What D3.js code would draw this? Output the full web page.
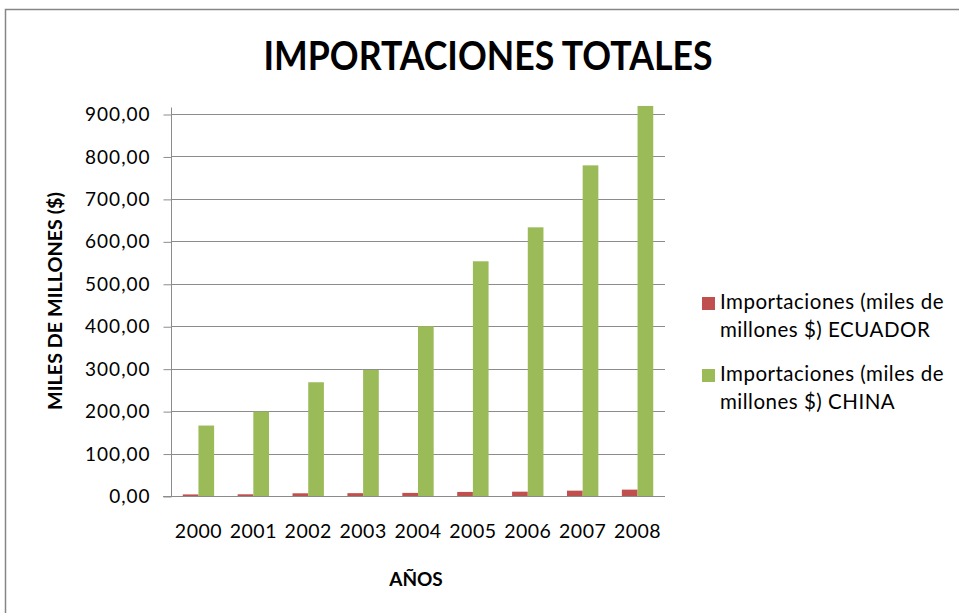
<!DOCTYPE html>
<html>
<head>
<meta charset="utf-8">
<script src="https://cdn.jsdelivr.net/npm/d3@7"></script>
<style>
  html, body { margin: 0; padding: 0; background: #fff; }
  svg { display: block; }
  text { font-family: Lato, "Open Sans", "Liberation Sans", sans-serif; fill: #000; }
</style>
</head>
<body>
<svg id="chart" width="959" height="613"></svg>
<script>
const years = ["2000", "2001", "2002", "2003", "2004", "2005", "2006", "2007", "2008"];
const ecuador = [3.7, 4.0, 6.4, 6.7, 7.3, 9.6, 10.2, 12.6, 15.0];
const china = [166, 199, 268, 297, 400, 553, 633, 779, 919];
const seriesNames = [
  ["Importaciones (miles de", "millones $) ECUADOR"],
  ["Importaciones (miles de", "millones $) CHINA"]
];
const seriesColors = ["#C0504D", "#9BBB59"];
const yTicks = [0, 100, 200, 300, 400, 500, 600, 700, 800, 900];
const titleText = "IMPORTACIONES TOTALES";
const yTitle = "MILES DE MILLONES ($)";
const xTitle = "AÑOS";

const svg = d3.select("#chart");

// outer chart border
svg.append("rect")
  .attr("x", 5.5).attr("y", 9.5)
  .attr("width", 1000).attr("height", 1000)
  .attr("fill", "#fff")
  .attr("stroke", "#868686").attr("stroke-width", 1.5);

const plotLeft = 171, plotRight = 665, plotTop = 114, plotBottom = 496;

const x = d3.scaleBand().domain(years).range([plotLeft, plotRight]).padding(0);
const bw = x.bandwidth();
const barW = bw / 3.5;
const x1 = d3.scaleBand().domain([0, 1]).range([bw / 2 - barW, bw / 2 + barW]).padding(0);
const y = d3.scaleLinear().domain([0, 900]).range([plotBottom, plotTop]);

// gridlines
svg.append("g")
  .selectAll("line").data(yTicks.filter(d => d > 0)).join("line")
  .attr("x1", plotLeft).attr("x2", plotRight)
  .attr("y1", d => Math.round(y(d)) + 0.5).attr("y2", d => Math.round(y(d)) + 0.5)
  .attr("stroke", "#8c8c8c").attr("stroke-width", 1);

// y axis
const yAxis = d3.axisLeft(y).tickValues(yTicks).tickSize(8).tickPadding(13)
  .tickFormat(d => d3.format(".2f")(d).replace(".", ","));
const gy = svg.append("g").attr("transform", `translate(${plotLeft + 0.5},0.5)`).call(yAxis);
gy.select(".domain").attr("stroke", "#8c8c8c").attr("d", `M0,${plotTop - 7}V${plotBottom}`);
gy.selectAll(".tick line").attr("stroke", "#8c8c8c");
gy.selectAll(".tick text").attr("font-size", 19).attr("fill", "#000")
  .attr("font-family", "Lato, 'Open Sans', sans-serif").attr("letter-spacing", 1.0);

// bars
const series = [ecuador, china];
series.forEach((vals, si) => {
  svg.append("g").selectAll("rect").data(vals).join("rect")
    .attr("x", (d, i) => x(years[i]) + x1(si))
    .attr("width", x1.bandwidth())
    .attr("y", d => y(d))
    .attr("height", d => plotBottom - y(d))
    .attr("fill", seriesColors[si]);
});

// x axis
const xAxis = d3.axisBottom(x).tickSize(0).tickPadding(28);
const gx = svg.append("g").attr("transform", `translate(0,${plotBottom + 0.5})`).call(xAxis);
gx.select(".domain").attr("stroke", "#8c8c8c").attr("d", `M${plotLeft - 8},0H${plotRight}`);
gx.selectAll(".tick text").attr("font-size", 19.5).attr("fill", "#000")
  .attr("font-family", "Lato, 'Open Sans', sans-serif").attr("letter-spacing", 0.5);

// title
svg.append("text")
  .attr("x", 488).attr("y", 70)
  .attr("text-anchor", "middle")
  .attr("font-size", 40).attr("font-weight", "bold")
  .attr("textLength", 449).attr("lengthAdjust", "spacingAndGlyphs")
  .text(titleText);

// y title
svg.append("text")
  .attr("transform", "translate(62,301) rotate(-90)")
  .attr("text-anchor", "middle")
  .attr("font-size", 18).attr("font-weight", "bold")
  .attr("textLength", 218).attr("lengthAdjust", "spacingAndGlyphs")
  .text(yTitle);

// x title
svg.append("text")
  .attr("x", 416).attr("y", 586)
  .attr("text-anchor", "middle")
  .attr("font-size", 19).attr("font-weight", "bold")
  .text(xTitle);

// legend
const legend = svg.append("g");
const legendRows = [0, 1];
legendRows.forEach(i => {
  const g = legend.append("g").attr("transform", `translate(702,${297 + i * 72})`);
  g.append("rect").attr("width", 13).attr("height", 13).attr("fill", seriesColors[i]);
  g.append("text").attr("x", 18).attr("y", 12).attr("font-size", 20.5).attr("letter-spacing", 0.5).text(seriesNames[i][0]);
  g.append("text").attr("x", 18).attr("y", 40).attr("font-size", 20.5).attr("letter-spacing", 0.5).text(seriesNames[i][1]);
});
</script>
</body>
</html>
